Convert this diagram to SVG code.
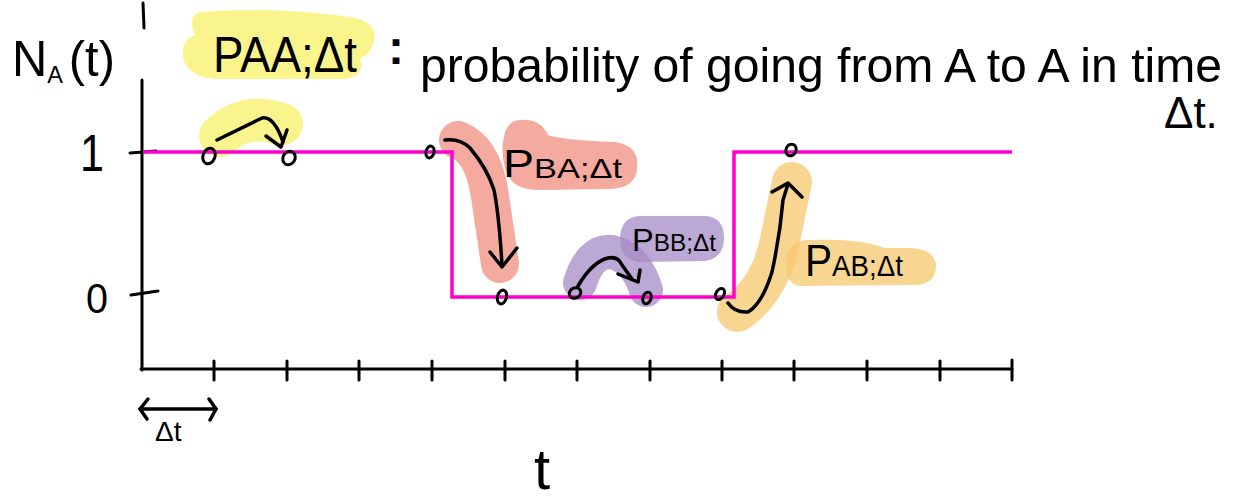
<svg xmlns="http://www.w3.org/2000/svg" width="1242" height="501" viewBox="0 0 1242 501">
<style>
.ink{fill:none;stroke:#000;stroke-width:3.5;stroke-linecap:round;stroke-linejoin:round}
.axis{fill:none;stroke:#000;stroke-width:3;stroke-linecap:round}
.sig{fill:none;stroke:#ff00cc;stroke-width:3.5;stroke-linejoin:miter}
.dot{fill:none;stroke:#000;stroke-width:3}
.t{font-family:"Liberation Sans",Arial,sans-serif;fill:#000}
.hy{fill:#f9f58c}
.hs{fill:#f5aaa0}
.hp{fill:#a58bc6;opacity:0.75}
.ho{fill:#f7c76e;opacity:0.75}
.sy{fill:none;stroke:#f9f58c;stroke-linecap:round;stroke-linejoin:round}
.ss{fill:none;stroke:#f5aaa0;stroke-linecap:round;stroke-linejoin:round}
.sp{fill:none;stroke:#a58bc6;stroke-linecap:round;stroke-linejoin:round;opacity:0.75}
.so{fill:none;stroke:#f7c76e;stroke-linecap:round;stroke-linejoin:round;opacity:0.75}
</style>
<rect width="1242" height="501" fill="#fff"/>

<!-- highlights -->
<g id="highlights">
  <path class="hy" d="M200 12 Q280 6 355 18 Q380 24 373 45 Q369 56 360 58 Q366 76 345 79 L215 79 Q186 76 183 57 Q181 40 195 35 Q187 15 200 12 Z"/>
  <path class="sy" stroke-width="42" d="M220 136 Q245 112 282 124"/>
  <path class="ss" stroke-width="38" d="M458 140 Q482 150 489 190 L500 264"/>
  <path class="hs" d="M520 120 Q540 118 548 135 Q560 140 615 142 Q640 146 637 168 Q636 188 610 189 L540 190 Q510 190 505 168 Q500 150 505 132 Q510 120 520 120 Z"/>
  <path class="sp" stroke-width="34" d="M580 283 Q590 250 612 252 Q636 258 646 290"/>
  <path class="hp" d="M640 216 L705 216 Q724 217 724 238 Q724 258 705 261 L640 262 Q620 260 620 240 Q620 217 640 216 Z"/>
  <path class="so" stroke-width="40" d="M737 312 Q770 290 780 240 L792 182"/>
  <path class="ho" d="M808 240 Q860 238 885 248 L912 248 Q937 250 936 268 Q934 286 912 285 L800 286 Q785 284 786 262 Q788 240 808 240 Z"/>
</g>

<!-- axes -->
<g id="axes">
  <line class="axis" x1="143" y1="3" x2="144" y2="28"/>
  <line class="axis" x1="142" y1="80" x2="142" y2="370"/>
  <line class="axis" x1="141" y1="369" x2="1012" y2="369"/>
  <line class="axis" x1="130" y1="153" x2="156" y2="151"/>
  <line class="axis" x1="131" y1="295" x2="158" y2="291"/>
  <g class="axis">
    <line x1="214" y1="361" x2="214" y2="380"/>
    <line x1="287" y1="361" x2="287" y2="380"/>
    <line x1="359" y1="361" x2="359" y2="380"/>
    <line x1="432" y1="361" x2="432" y2="380"/>
    <line x1="505" y1="361" x2="505" y2="380"/>
    <line x1="577" y1="361" x2="577" y2="380"/>
    <line x1="650" y1="361" x2="650" y2="380"/>
    <line x1="722" y1="361" x2="722" y2="380"/>
    <line x1="794" y1="361" x2="794" y2="380"/>
    <line x1="867" y1="361" x2="867" y2="380"/>
    <line x1="940" y1="361" x2="940" y2="380"/>
    <line x1="1012" y1="360" x2="1012" y2="380"/>
  </g>
  <!-- delta t double arrow -->
  <g class="ink" stroke-width="3">
    <line x1="140" y1="409" x2="216" y2="409"/>
    <polyline points="148,399 140,409 147,419"/>
    <polyline points="209,399 216,409 210,420"/>
  </g>
</g>

<!-- signal -->
<g id="signal">
  <polyline class="sig" points="143,152 452,152 452,297 734,297 734,152 1012,152"/>
</g>

<!-- dots -->
<g id="dots">
  <ellipse class="dot" cx="209" cy="156" rx="6" ry="8" transform="rotate(20 209 156)"/>
  <ellipse class="dot" cx="289" cy="158" rx="6" ry="7" transform="rotate(30 289 158)"/>
  <ellipse class="dot" cx="430" cy="152" rx="4" ry="6" transform="rotate(15 430 152)"/>
  <ellipse class="dot" cx="502" cy="297" rx="4.5" ry="7" transform="rotate(15 502 297)"/>
  <ellipse class="dot" cx="575" cy="293" rx="6" ry="5" transform="rotate(-30 575 293)"/>
  <ellipse class="dot" cx="647" cy="298" rx="4" ry="6" transform="rotate(20 647 298)"/>
  <ellipse class="dot" cx="720" cy="294" rx="4" ry="6" transform="rotate(30 720 294)"/>
  <ellipse class="dot" cx="791" cy="150" rx="5" ry="6" transform="rotate(25 791 150)"/>
</g>

<!-- connectors (transition arrows) -->
<g id="connectors" class="ink">
  <path d="M217 140 L262 118 Q274 116 283 142"/>
  <polyline points="266,136 281,147 287,130"/>
  <path d="M445 140 Q460 138 470 148 Q487 168 494 190 Q499 215 502 265"/>
  <polyline points="490,252 502,267 517,248"/>
  <path d="M578 286 Q592 262 608 258 Q618 256 622 265 L632 279"/>
  <polyline points="618,274 638,282 640,270"/>
  <path d="M728 303 Q735 313 748 312 Q762 304 772 272 Q780 235 783 200 L788 184"/>
  <polyline points="772,192 788,183 802,197"/>
</g>

<!-- labels -->
<g id="labels">
  <text class="t" x="12" y="76" font-size="50" textLength="103" lengthAdjust="spacingAndGlyphs">N<tspan font-size="24" dy="7">A</tspan><tspan dy="-7" dx="6">(t)</tspan></text>
  <text class="t" x="80" y="171" font-size="52" textLength="24" lengthAdjust="spacingAndGlyphs">1</text>
  <text class="t" x="86" y="313" font-size="42" textLength="22" lengthAdjust="spacingAndGlyphs">0</text>
  <text class="t" x="155" y="441" font-size="28">Δt</text>
  <text class="t" x="534" y="489" font-size="58">t</text>

  <g id="paa">
    <text class="t" x="213" y="72" font-size="50" textLength="144" lengthAdjust="spacingAndGlyphs">PAA;Δt</text>
  </g>
  <text class="t" x="388" y="64" font-size="48" font-weight="bold">:</text>
  <text class="t" x="420" y="82" font-size="48" textLength="802" lengthAdjust="spacingAndGlyphs">probability of going from A to A in time</text>
  <text class="t" x="1164" y="128" font-size="44">Δt.</text>

  <g id="pba">
    <text class="t" x="503" y="177" font-size="38" textLength="119" lengthAdjust="spacingAndGlyphs">P<tspan font-size="28" dy="1">BA;Δt</tspan></text>
  </g>
  <g id="pbb">
    <text class="t" x="632" y="251" font-size="32" textLength="84" lengthAdjust="spacingAndGlyphs">P<tspan font-size="24">BB;Δt</tspan></text>
  </g>
  <g id="pab">
    <text class="t" x="805" y="276" font-size="44" textLength="98" lengthAdjust="spacingAndGlyphs">P<tspan font-size="30">AB;Δt</tspan></text>
  </g>
</g>
</svg>
